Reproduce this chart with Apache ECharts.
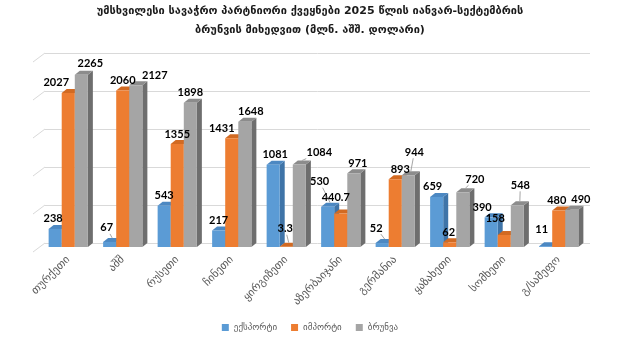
<!DOCTYPE html>
<html><head><meta charset="utf-8">
<script src="https://cdn.jsdelivr.net/npm/echarts@6/dist/echarts.min.js"></script>
<style>html,body{margin:0;padding:0;background:#fff}#c{width:620px;height:343px}</style>
</head><body><div id="c"></div>
<script>
// ---- data ----
const categories = ['თურქეთი','აშშ','რუსეთი','ჩინეთი','ყირგიზეთი','აზერბაიჯანი','გერმანია','ყაზახეთი','სომხეთი','გ/სამეფო'];
const exportsVals = [238, 67, 543, 217, 1081, 530, 52, 659, 390, 11];
const importsVals = [2027, 2060, 1355, 1431, 3.3, 440.7, 893, 62, 158, 480];
const turnoverVals = [2265, 2127, 1898, 1648, 1084, 971, 944, 720, 548, 490];
const seriesNames = ['ექსპორტი','იმპორტი','ბრუნვა'];
const yTicks = [0, 500, 1000, 1500, 2000, 2500];
const titleText = 'უმსხვილესი სავაჭრო პარტნიორი ქვეყნები 2025 წლის იანვარ-სექტემბრის\nბრუნვის მიხედვით (მლნ. აშშ. დოლარი)';

// ---- styling / layout ----
const faceColors = [
  {front:'#5B9BD5', side:'#3F74A8', top:'#4C88C2'},
  {front:'#ED7D31', side:'#B85F22', top:'#D26A22'},
  {front:'#A5A5A5', side:'#6E6E6E', top:'#8C8C8C'}
];
const DX = 5, DY = 4;
// label nudges [dx, dy, leader]
const labelNudge = [
  [[-2,0],[-3,-4,1],[0,0],[0,0],[2,0],[-8,-15,1],[-6,-5,1],[-4,0],[-9,0],[-4,-7]],
  [[-12,0],[0,0],[0,0],[-10,0],[-1,-8,1],[-5,-6],[5,0],[-1,0],[-9,-7],[-2,0]],
  [[9,-1],[19,0],[0,0],[6,0],[20,-2,1],[4,0],[6,-13,1],[12,-3,1],[3,-10,1],[9,0]]
];
const allVals = [exportsVals, importsVals, turnoverVals];

function barGeom(s, api){
  const idx = api.value(0), val = api.value(1);
  const base = api.coord([idx, 0]);
  const top = api.coord([idx, val]);
  const band = api.size([1, 0])[0];
  const bw = band * 0.24;
  const x0 = base[0] + (s - 1.5) * bw;
  return {x0, bw, yb: base[1], yt: top[1]};
}

function barRender(s){
  return function(params, api){
    const g = barGeom(s, api);
    const c = faceColors[s];
    const {x0, bw, yb, yt} = g;
    return {type:'group', children:[
      {type:'polygon', shape:{points:[[x0+bw,yt],[x0+bw+DX,yt-DY],[x0+bw+DX,yb-DY],[x0+bw,yb]]}, style:{fill:c.side}},
      {type:'polygon', shape:{points:[[x0,yt],[x0+DX,yt-DY],[x0+bw+DX,yt-DY],[x0+bw,yt]]}, style:{fill:c.top}},
      {type:'rect', shape:{x:x0, y:yt, width:bw, height:yb-yt}, style:{fill:c.front}}
    ]};
  };
}

function labelRender(s){
  return function(params, api){
    const g = barGeom(s, api);
    const i = params.dataIndex;
    const n = labelNudge[s][i] || [0,0];
    const txt = String(allVals[s][i]);
    const cx = g.x0 + g.bw/2 + n[0];
    const cy = g.yt - 10 + n[1];
    const children = [];
    if (n[2]) {
      const sx = g.x0 + g.bw/2 + DX/2, sy = g.yt - DY;
      const hw = txt.length * 3.3 + 1, hh = 6;
      const vx = sx - cx, vy = sy - cy;
      const t = Math.min(Math.abs(vx) > 0 ? hw/Math.abs(vx) : 1e9, Math.abs(vy) > 0 ? hh/Math.abs(vy) : 1e9);
      if (t < 1) {
        children.push({type:'line', shape:{x1:cx+vx*t, y1:cy+vy*t, x2:sx, y2:sy}, style:{stroke:'#A6A6A6', lineWidth:1}});
      }
    }
    children.push({type:'text', style:{text:txt, x:cx, y:cy, align:'center', verticalAlign:'middle',
      fill:'#000', font:'bold 11px Lato, "Liberation Sans", sans-serif'}});
    return {type:'group', children};
  };
}

// slanted floor edges of the back-wall gridlines (drawn through the wall's scale)
function slantRender(params, api){
  const p = api.coord([0, api.value(0)]);
  return {type:'line', shape:{x1:p[0], y1:p[1], x2:p[0]-12, y2:p[1]+9}, style:{stroke:'#D9D9D9', lineWidth:1}};
}

const chart = echarts.init(document.getElementById('c'), null, {renderer:'canvas'});
const series = [];
series.push({name:'wall', type:'custom', xAxisIndex:1, yAxisIndex:1, renderItem:slantRender,
  data: yTicks.map(v => [v]), encode:{y:0}, silent:true, z:1});
allVals.forEach((vals, s) => {
  series.push({
    name: seriesNames[s], type:'custom', xAxisIndex:0, yAxisIndex:0,
    itemStyle:{color: faceColors[s].front},
    renderItem: barRender(s), z: 2 + s,
    data: vals.map((v, i) => [i, v]), silent:true
  });
});
allVals.forEach((vals, s) => {
  series.push({
    name: seriesNames[s] + '_lbl', type:'custom', xAxisIndex:0, yAxisIndex:0,
    renderItem: labelRender(s), z: 10,
    data: vals.map((v, i) => [i, v]), silent:true
  });
});

chart.setOption({
  animation:false,
  backgroundColor:'#fff',
  title:{text:titleText, left:'center', top:2, padding:0,
    textStyle:{fontFamily:'"DejaVu Sans", sans-serif', fontSize:11, fontWeight:'bold', color:'#1a1a1a', lineHeight:19}},
  legend:{data:seriesNames, bottom:6, left:'center', icon:'rect', itemWidth:7, itemHeight:7, itemGap:14,
    textStyle:{fontFamily:'"DejaVu Sans", sans-serif', fontSize:9, color:'#595959'}},
  grid:[
    {left:41, right:34, top:57, bottom:96},
    {left:45, right:30, top:53, bottom:100}
  ],
  xAxis:[
    {type:'category', gridIndex:0, data:categories, boundaryGap:true,
     axisLine:{show:false}, axisTick:{show:false},
     axisLabel:{rotate:45, interval:0, margin:11, fontSize:11, color:'#595959', fontFamily:'"DejaVu Sans", sans-serif'}},
    {type:'value', gridIndex:1, show:false, min:0, max:1}
  ],
  yAxis:[
    {type:'value', gridIndex:0, min:yTicks[0], max:yTicks[yTicks.length-1], interval:yTicks[1]-yTicks[0], show:false},
    {type:'value', gridIndex:1, min:yTicks[0], max:yTicks[yTicks.length-1], interval:yTicks[1]-yTicks[0],
     axisLabel:{show:false}, axisLine:{show:false}, axisTick:{show:false},
     splitLine:{show:true, lineStyle:{color:'#D9D9D9', width:1}}}
  ],
  series
});
</script></body></html>
